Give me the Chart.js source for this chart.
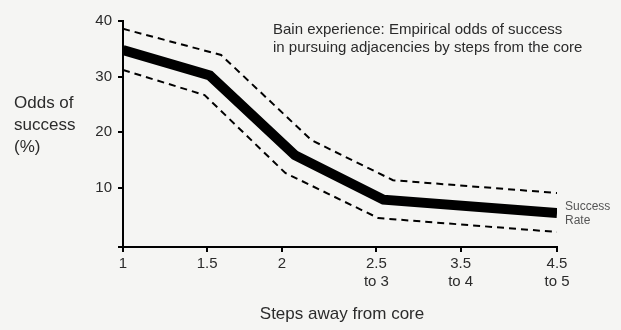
<!DOCTYPE html>
<html>
<head>
<meta charset="utf-8">
<script src="https://cdn.jsdelivr.net/npm/chart.js@4"></script>
<style>
  html, body { margin: 0; padding: 0; background: #f5f5f3; }
  #wrap { width: 621px; height: 330px; }
</style>
</head>
<body>
<div id="wrap"><canvas id="chart" width="621" height="330"></canvas></div>
<script>
/* ── Data ─────────────────────────────────────────────── */
// x positions are in "tick slot" units (hand-drawn axis, slots are not evenly spaced)
const xTickPos    = [0, 0.97, 1.83, 2.92, 3.89, 5];
const xTickLabels = [['1'], ['1.5'], ['2'], ['2.5', 'to 3'], ['3.5', 'to 4'], ['4.5', 'to 5']];
const yTicks      = [10, 20, 30, 40];

const successX = [0, 1.0, 1.98, 3.0, 5];
const successY = [34.8, 30.2, 15.9, 7.9, 5.5];
const upperX   = [0, 1.13, 2.17, 3.11, 5];
const upperY   = [38.6, 33.9, 18.6, 11.4, 9.1];
const lowerX   = [0, 0.94, 1.87, 2.94, 5];
const lowerY   = [31.2, 26.7, 12.7, 4.6, 2.1];

const Y_MIN = -0.6, Y_MAX = 40;
const FONT = '"Liberation Sans", Arial, sans-serif';
const TXT  = '#2b2b2b';

const pts = (xs, ys) => xs.map((x, i) => ({ x, y: ys[i] }));

/* ── Free text (titles, note) ─────────────────────────── */
const textPlugin = {
  id: 'texts',
  beforeDraw(chart) {
    const { ctx } = chart;
    ctx.save();
    ctx.fillStyle = '#f5f5f3';
    ctx.fillRect(0, 0, chart.width, chart.height);
    ctx.restore();
  },
  afterDraw(chart) {
    const { ctx } = chart;
    ctx.save();
    ctx.fillStyle = TXT;
    ctx.textBaseline = 'middle';

    ctx.font = '17px ' + FONT;
    ctx.textAlign = 'left';
    ['Odds of', 'success', '(%)'].forEach((t, i) => ctx.fillText(t, 14, 103 + i * 22));

    ctx.textAlign = 'center';
    ctx.fillText('Steps away from core', 342, 314);

    ctx.font = '15px ' + FONT;
    ctx.textAlign = 'left';
    ctx.fillText('Bain experience: Empirical odds of success', 273, 30);
    ctx.fillText('in pursuing adjacencies by steps from the core', 273, 48);

    ctx.font = '12px ' + FONT;
    ctx.fillStyle = '#555';
    ctx.fillText('Success', 565, 207);
    ctx.fillText('Rate', 565, 221);
    ctx.restore();
  },
};

const dashed = data => ({
  data,
  borderColor: '#000',
  borderWidth: 2,
  borderDash: [7, 5],
  pointRadius: 0,
  tension: 0,
  fill: false,
});

new Chart(document.getElementById('chart'), {
  type: 'line',
  data: {
    datasets: [
      dashed(pts(upperX, upperY)),
      dashed(pts(lowerX, lowerY)),
      {
        data: pts(successX, successY),
        borderColor: '#000',
        borderWidth: 10,
        borderCapStyle: 'butt',
        borderJoinStyle: 'miter',
        pointRadius: 0,
        tension: 0,
        fill: false,
      },
    ],
  },
  options: {
    responsive: false,
    animation: false,
    layout: { padding: { left: 0, right: 64, top: 21, bottom: 0 } },
    plugins: { legend: { display: false }, tooltip: { enabled: false } },
    scales: {
      x: {
        type: 'linear',
        min: 0,
        max: 5,
        afterBuildTicks: s => { s.ticks = xTickPos.map(v => ({ value: v })); },
        afterFit: s => { s.height = 83; },
        ticks: {
          autoSkip: false,
          maxRotation: 0,
          padding: 3,
          color: TXT,
          font: { family: FONT, size: 15, lineHeight: 1.2 },
          callback: v => {
            const i = xTickPos.indexOf(v);
            return i >= 0 ? xTickLabels[i] : '';
          },
        },
        grid: { drawOnChartArea: false, drawTicks: true, tickLength: 5, color: '#000', lineWidth: 2 },
        border: { display: true, color: '#000', width: 2 },
      },
      y: {
        min: Y_MIN,
        max: Y_MAX,
        afterBuildTicks: s => { s.ticks = [Y_MIN, ...yTicks].map(v => ({ value: v })); },
        afterFit: s => { s.width = 123; },
        ticks: {
          padding: 6,
          color: TXT,
          font: { family: FONT, size: 15 },
          callback: v => (yTicks.includes(v) ? String(v) : ''),
        },
        grid: { drawOnChartArea: false, drawTicks: true, tickLength: 5, color: '#000', lineWidth: 2 },
        border: { display: true, color: '#000', width: 2 },
      },
    },
  },
  plugins: [textPlugin],
});
</script>
</body>
</html>
